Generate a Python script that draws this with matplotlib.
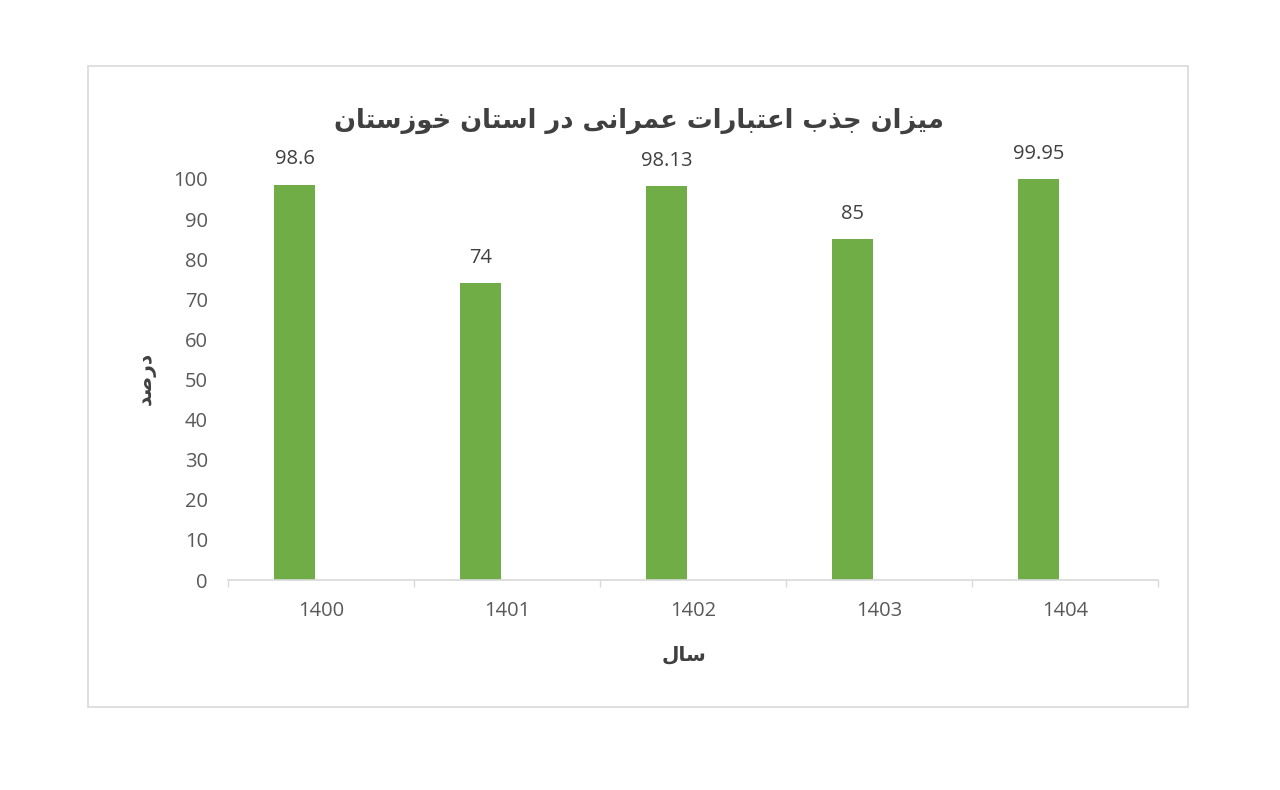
import matplotlib
matplotlib.use("Agg")
import matplotlib.pyplot as plt
from matplotlib.patches import Rectangle
import numpy as np

# ---- data ----
years = ["1400", "1401", "1402", "1403", "1404"]
values = [98.6, 74, 98.13, 85, 99.95]
yticks = [0, 10, 20, 30, 40, 50, 60, 70, 80, 90, 100]
title_txt = "میزان جذب اعتبارات عمرانی در استان خوزستان"
ylabel_txt = "درصد"
xlabel_txt = "سال"

# ---- minimal Persian shaping (presentation forms + RTL) ----
FORMS = {  # isolated, final, initial, medial
    "ا": ("\uFE8D", "\uFE8E", None, None),
    "ب": ("\uFE8F", "\uFE90", "\uFE91", "\uFE92"),
    "ت": ("\uFE95", "\uFE96", "\uFE97", "\uFE98"),
    "ج": ("\uFE9D", "\uFE9E", "\uFE9F", "\uFEA0"),
    "خ": ("\uFEA5", "\uFEA6", "\uFEA7", "\uFEA8"),
    "د": ("\uFEA9", "\uFEAA", None, None),
    "ذ": ("\uFEAB", "\uFEAC", None, None),
    "ر": ("\uFEAD", "\uFEAE", None, None),
    "ز": ("\uFEAF", "\uFEB0", None, None),
    "س": ("\uFEB1", "\uFEB2", "\uFEB3", "\uFEB4"),
    "ص": ("\uFEB9", "\uFEBA", "\uFEBB", "\uFEBC"),
    "ع": ("\uFEC9", "\uFECA", "\uFECB", "\uFECC"),
    "ل": ("\uFEDD", "\uFEDE", "\uFEDF", "\uFEE0"),
    "م": ("\uFEE1", "\uFEE2", "\uFEE3", "\uFEE4"),
    "ن": ("\uFEE5", "\uFEE6", "\uFEE7", "\uFEE8"),
    "و": ("\uFEED", "\uFEEE", None, None),
    "ی": ("\uFEEF", "\uFEF0", "\uFEF3", "\uFEF4"),
}


def shape(s):
    out = []
    n = len(s)
    for i, c in enumerate(s):
        if c not in FORMS:
            out.append(c)
            continue
        f = FORMS[c]
        prev_c = s[i - 1] if i > 0 else None
        next_c = s[i + 1] if i < n - 1 else None
        join_prev = prev_c in FORMS and FORMS[prev_c][2] is not None
        join_next = next_c in FORMS and f[2] is not None
        if join_prev and join_next:
            out.append(f[3])
        elif join_prev:
            out.append(f[1])
        elif join_next:
            out.append(f[2])
        else:
            out.append(f[0])
    return "".join(out)[::-1]


W, H = 1280, 790
fig = plt.figure(figsize=(W / 100, H / 100), dpi=100)
fig.patch.set_facecolor("white")

# outer chart border
fig.patches.append(Rectangle((88 / W, 1 - 707 / H), (1188 - 88) / W, (707 - 66) / H,
                             transform=fig.transFigure, fill=False,
                             edgecolor="#d9d9d9", linewidth=1.2))

ax = fig.add_axes([228 / W, 1 - 580 / H, (1158 - 228) / W, (580 - 179) / H])
x = np.arange(len(years))
offset = -0.142
bars = ax.bar(x + offset, values, width=0.22, color="#70AD47", zorder=2)

for xi, v in zip(x, values):
    ax.annotate(f"{v:g}", (xi + offset, v), xytext=(0, 11), textcoords="offset points",
                ha="center", va="bottom", fontsize=14.5, color="#404040", family="Open Sans")

ax.set_xlim(-0.5, len(years) - 0.5)
ax.set_ylim(0, 100)
ax.set_yticks(yticks)
ax.set_yticklabels([str(t) for t in yticks], fontsize=14.5, color="#595959", family="Open Sans")
ax.set_xticks(x)
ax.set_xticklabels(years, fontsize=14.5, color="#595959", family="Open Sans")
ax.set_xticks(np.arange(-0.5, len(years), 1.0), minor=True)
ax.tick_params(axis="x", which="major", length=0, pad=15)
ax.tick_params(axis="x", which="minor", length=5, color="#d9d9d9", width=1)
ax.tick_params(axis="y", length=0, pad=14.5)

for side in ["top", "right", "left"]:
    ax.spines[side].set_visible(False)
ax.spines["bottom"].set_color("#d9d9d9")
ax.spines["bottom"].set_linewidth(1.2)

fig.text(639 / W, 1 - 121 / H, shape(title_txt), ha="center", va="center",
         fontsize=18.5, fontweight="bold", color="#404040", family="DejaVu Sans")
fig.text(146 / W, 1 - 378 / H, shape(ylabel_txt), ha="center", va="center", rotation=90,
         fontsize=14.5, fontweight="bold", color="#404040", family="DejaVu Sans")
fig.text(684 / W, 1 - 655 / H, shape(xlabel_txt), ha="center", va="center",
         fontsize=14.5, fontweight="bold", color="#404040", family="DejaVu Sans")

fig.savefig("out.png", dpi=100, facecolor="white")
